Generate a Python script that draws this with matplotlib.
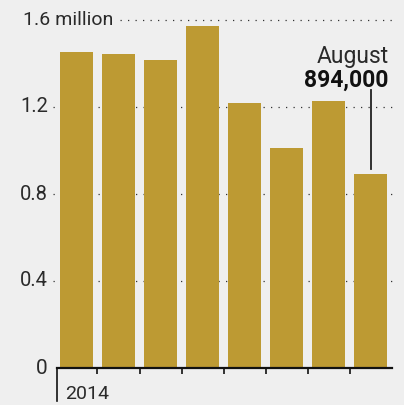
import numpy as np
import matplotlib
matplotlib.use("Agg")
import matplotlib.pyplot as plt

# Data (millions), Jan-Aug 2014
months = ["Jan", "Feb", "Mar", "Apr", "May", "Jun", "Jul", "Aug"]
values = [1.453, 1.444, 1.416, 1.572, 1.218, 1.011, 1.228, 0.894]
grid_vals = [0.4, 0.8, 1.2, 1.6]
grid_labels = ["0.4", "0.8", "1.2", "1.6 million"]
callout_month = "August"
callout_value = "894,000"

bg = "#efefef"
bar_color = "#bd9a33"
plt.rcParams["font.family"] = ["Roboto", "DejaVu Sans"]

fig = plt.figure(figsize=(4.04, 4.05), dpi=100, facecolor=bg)
ax = fig.add_axes([57 / 404, 37 / 405, 335 / 404, 348 / 405], facecolor=bg)

x = np.arange(len(values))
ax.bar(x, values, width=0.79, color=bar_color, zorder=2)

ax.set_xlim(-0.464, 7.51)
ax.set_ylim(0, 1.6)

# dotted gridlines behind the bars
ytrans = ax.get_yaxis_transform()
for v in grid_vals:
    start = 0.188 if v == 1.6 else -0.012
    ax.plot([start, 1.0], [v, v], transform=ytrans, color="#333333",
            lw=0.9, linestyle=(0, (1, 5)), zorder=1, clip_on=False)

# y labels
for v, lab in zip(grid_vals, grid_labels):
    if v == 1.6:
        ax.text(-0.1, v, lab, transform=ytrans, ha="left", va="center",
                fontsize=14, color="#2a2a2a")
    else:
        ax.text(-0.027, v, lab, transform=ytrans, ha="right", va="center",
                fontsize=14.5, color="#2a2a2a")
ax.text(-0.027, 0, "0", transform=ytrans, ha="right", va="center",
        fontsize=15, color="#2a2a2a")

# axes styling
for s in ["top", "right", "left"]:
    ax.spines[s].set_visible(False)
ax.spines["bottom"].set_linewidth(1.6)
ax.spines["bottom"].set_color("#111111")
ax.set_yticks([])
ax.set_xticks(x[:-1] + 0.5)
ax.set_xticklabels([])
ax.tick_params(axis="x", direction="out", length=4, width=1.2, color="#111111")

# year marker
ax.plot([0, 0], [0, -0.095], transform=ax.transAxes, color="#111111",
        lw=1.2, clip_on=False)
ax.text(0.024, -0.088, "2014", transform=ax.transAxes, ha="left",
        va="baseline", fontsize=14, color="#2a2a2a")

# callout
ax.plot([x[-1], x[-1]], [values[-1] + 0.02, 1.28], color="#222222",
        lw=1.3, zorder=3)
ax.text(0.99, 1.40, callout_month, transform=ytrans, ha="right",
        va="baseline", fontsize=16.5, color="#2a2a2a")
ax.text(0.99, 1.295, callout_value, transform=ytrans, ha="right",
        va="baseline", fontsize=16.5, fontweight="bold", color="#111111")

fig.savefig("out.png", dpi=100, facecolor=bg)
